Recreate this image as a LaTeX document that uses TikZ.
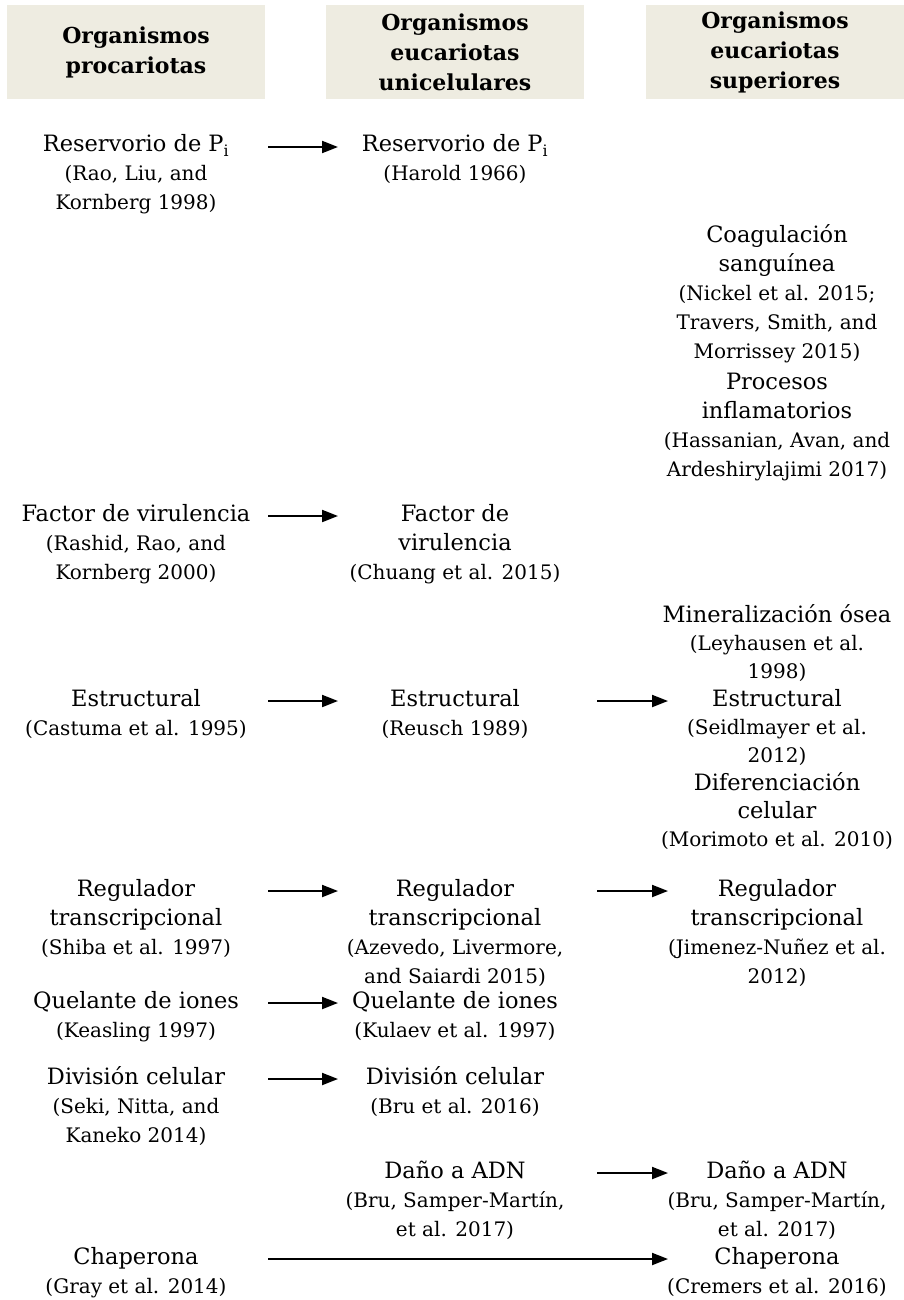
\documentclass[tikz,border=0pt]{standalone}
\usepackage{fontspec}
\setmainfont{DejaVu Serif}
\usetikzlibrary{arrows.meta}
\definecolor{hdr}{HTML}{EEECE1}
\newcommand{\mf}{\fontsize{22.5}{29}\selectfont}
\newcommand{\st}{\rule{0pt}{18.5pt}}
\begin{document}
\begin{tikzpicture}[x=1pt,y=-1pt,
  hbox/.style={fill=hdr, draw=none, minimum width=258pt, minimum height=94pt,
    inner sep=0pt, align=center, font=\fontsize{22}{30}\selectfont\bfseries},
  item/.style={anchor=north, align=center, inner sep=0pt, font=\fontsize{20}{#1}\selectfont},
  item/.default=29,
  arr/.style={line width=2pt, -{Triangle[length=16pt,width=12pt]}}]
\useasboundingbox (0,0) rectangle (904,1300);

% headers
\node[hbox] (h1) at (136,52) {Organismos\\procariotas};
\node[hbox] (h2) at (455,52) {Organismos\\eucariotas\\unicelulares};
\node[hbox] (h3) at (775,52) {Organismos\\eucariotas\\superiores};

% column 1
\node[item] (a1) at (136,133) {{\mf\st Reservorio de P\textsubscript{i}}\\(Rao, Liu, and\\Kornberg 1998)};
\node[item] (a2) at (136,503) {{\mf\st Factor de virulencia}\\(Rashid, Rao, and\\Kornberg 2000)};
\node[item] (a3) at (136,688) {{\mf\st Estructural}\\(Castuma et al. 1995)};
\node[item] (a4) at (136,878) {{\mf\st Regulador}\\{\mf transcripcional}\\(Shiba et al. 1997)};
\node[item] (a5) at (136,990) {{\mf\st Quelante de iones}\\(Keasling 1997)};
\node[item] (a6) at (136,1066) {{\mf\st División celular}\\(Seki, Nitta, and\\Kaneko 2014)};
\node[item] (a7) at (136,1246) {{\mf\st Chaperona}\\(Gray et al. 2014)};

% column 2
\node[item] (b1) at (455,133) {{\mf\st Reservorio de P\textsubscript{i}}\\(Harold 1966)};
\node[item] (b2) at (455,503) {{\mf\st Factor de}\\{\mf virulencia}\\(Chuang et al. 2015)};
\node[item] (b3) at (455,688) {{\mf\st Estructural}\\(Reusch 1989)};
\node[item] (b4) at (455,878) {{\mf\st Regulador}\\{\mf transcripcional}\\(Azevedo, Livermore,\\and Saiardi 2015)};
\node[item] (b5) at (455,990) {{\mf\st Quelante de iones}\\(Kulaev et al. 1997)};
\node[item] (b6) at (455,1066) {{\mf\st División celular}\\(Bru et al. 2016)};
\node[item] (b7) at (455,1160) {{\mf\st Daño a ADN}\\(Bru, Samper-Martín,\\et al. 2017)};

% column 3
\node[item] (c1) at (777,224) {{\mf\st Coagulación}\\{\mf sanguínea}\\(Nickel et al. 2015;\\Travers, Smith, and\\Morrissey 2015)};
\node[item] (c2) at (777,371) {{\mf\st Procesos}\\{\mf inflamatorios}\\(Hassanian, Avan, and\\Ardeshirylajimi 2017)};
\node[item=28] (c3) at (777,604) {{\mf\st Mineralización ósea}\\(Leyhausen et al.\\1998)};
\node[item=28] (c4) at (777,688) {{\mf\st Estructural}\\(Seidlmayer et al.\\2012)};
\node[item=28] (c5) at (777,772) {{\mf\st Diferenciación}\\{\mf celular}\\(Morimoto et al. 2010)};
\node[item] (c6) at (777,878) {{\mf\st Regulador}\\{\mf transcripcional}\\(Jimenez-Nuñez et al.\\2012)};
\node[item] (c7) at (777,1160) {{\mf\st Daño a ADN}\\(Bru, Samper-Martín,\\et al. 2017)};
\node[item] (c8) at (777,1246) {{\mf\st Chaperona}\\(Cremers et al. 2016)};

% arrow levels
\coordinate (m1) at ([yshift=-14pt]a1.north);
\coordinate (m2) at ([yshift=-13pt]a2.north);
\coordinate (m3) at ([yshift=-13pt]a3.north);
\coordinate (m4) at ([yshift=-13pt]a4.north);
\coordinate (m5) at ([yshift=-13pt]a5.north);
\coordinate (m6) at ([yshift=-13pt]a6.north);
\coordinate (m7) at ([yshift=-13pt]b7.north);
\coordinate (m8) at ([yshift=-13pt]a7.north);

\draw[arr] (m1 -| 268,0) -- (m1 -| 338,0);
\draw[arr] (m2 -| 268,0) -- (m2 -| 338,0);
\draw[arr] (m3 -| 268,0) -- (m3 -| 338,0);
\draw[arr] (m3 -| 597,0) -- (m3 -| 668,0);
\draw[arr] (m4 -| 268,0) -- (m4 -| 338,0);
\draw[arr] (m4 -| 597,0) -- (m4 -| 668,0);
\draw[arr] (m5 -| 268,0) -- (m5 -| 338,0);
\draw[arr] (m6 -| 268,0) -- (m6 -| 338,0);
\draw[arr] (m7 -| 597,0) -- (m7 -| 668,0);
\draw[arr] (m8 -| 268,0) -- (m8 -| 668,0);
\end{tikzpicture}
\end{document}
